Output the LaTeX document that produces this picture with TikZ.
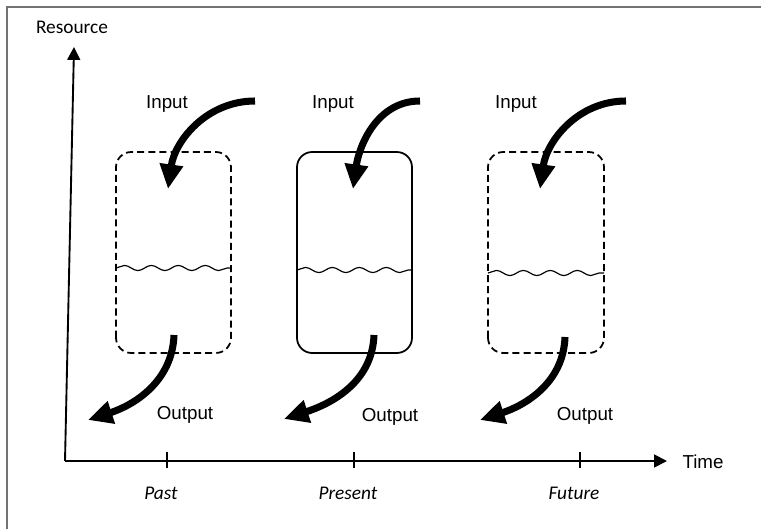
\documentclass[tikz,border=0pt]{standalone}
\usepackage{fontspec}
\setmainfont{Liberation Sans}
\newfontfamily\carlito{Carlito}
\usetikzlibrary{arrows.meta, decorations.pathmorphing}
\tikzset{
  pageframe/.style={draw=black!55, line width=1pt},
  axisline/.style={line width=1.6pt, -{Triangle[length=11pt,width=11pt]}},
  tickmark/.style={line width=1.4pt},
  stockbox/.style={line width=1.5pt, rounded corners=13pt},
  level/.style={line width=1pt, decorate, decoration={snake, segment length=23pt, amplitude=2.2pt}},
  flow/.style={line width=6pt, -{Triangle[length=21pt,width=19pt]}},
  txt/.style={font=\fontsize{16}{19}\selectfont, inner sep=0pt},
  era/.style={font=\carlito\itshape\fontsize{16.5}{19}\selectfont, inner sep=0pt}
}

\begin{document}
\begin{tikzpicture}[x=0.03cm,y=0.03cm]
    \useasboundingbox (0,0) rectangle (761,529);
    \draw[pageframe] (7,0) -- (7,522) -- (761,522);

    % Axes

    \coordinate (origin) at (65,68);
    \coordinate (ytip) at (74,482);
    \coordinate (xtip) at (667,68);
    \draw[axisline] (origin) -- (ytip);
    \draw[axisline] (origin) -- (xtip);
    \node[txt, font=\carlito\fontsize{16.5}{19}\selectfont] (resource) at (72,502) {Resource};
    \node[txt] (time) at (703,67) {Time};

    \foreach \x/\t/\n in {167/Past/past, 354/Present/present, 580/Future/future} {
      \draw[tickmark] (\x,61) -- (\x,77);
      \node[era] (\n) at (\x-6,36) {\t};
    }

    % Past

    \draw[stockbox, dashed, dash pattern=on 6pt off 3.5pt] (116,176) rectangle (231,377);
    \draw[level] (116,261) -- (231,261);
    \coordinate (pastin) at (255,428);
    \coordinate (pastout) at (88,109);
    \draw[flow] (pastin) to[out=180,in=82] (168,340);
    \draw[flow] (174,194) to[out=-92,in=18] (pastout);
    \node[txt] (pastinput) at (167,425) {Input};
    \node[txt] (pastoutput) at (185,114) {Output};

    % Present

    \draw[stockbox] (297,176) rectangle (412,377);
    \draw[level] (297,259) -- (412,259);
    \coordinate (presentin) at (420,428);
    \coordinate (presentout) at (284,110);
    \draw[flow] (presentin) to[out=180,in=82] (353,340);
    \draw[flow] (374,194) to[out=-92,in=18] (presentout);
    \node[txt] (presentinput) at (333,425) {Input};
    \node[txt] (presentoutput) at (390,112) {Output};

    % Future

    \draw[stockbox, dashed, dash pattern=on 6pt off 3.5pt] (488,176) rectangle (604,377);
    \draw[level] (488,256) -- (604,256);
    \coordinate (futurein) at (626,428);
    \coordinate (futureout) at (480,109);
    \draw[flow] (futurein) to[out=180,in=82] (540,340);
    \draw[flow] (565,192) to[out=-92,in=18] (futureout);
    \node[txt] (futureinput) at (516,425) {Input};
    \node[txt] (futureoutput) at (585,113) {Output};
\end{tikzpicture}
\end{document}
